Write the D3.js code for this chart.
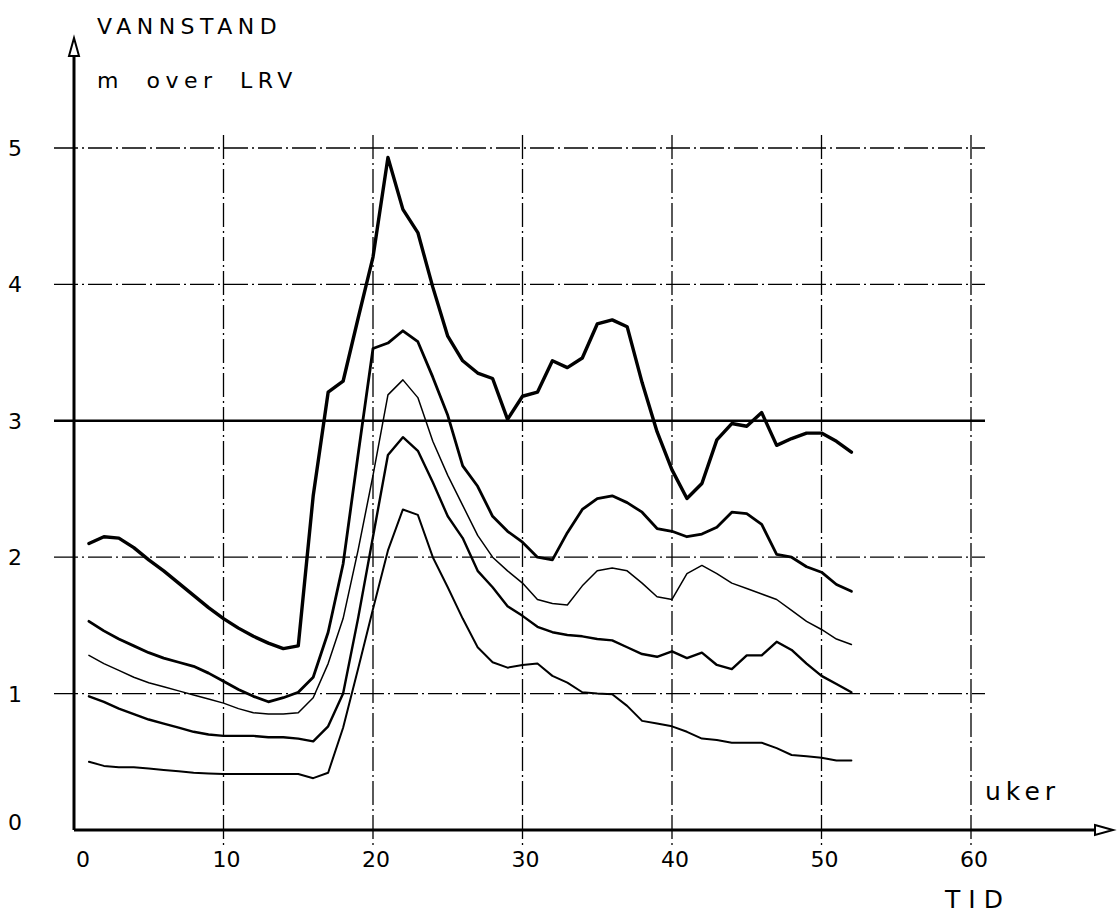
<!DOCTYPE html>
<html>
<head>
<meta charset="utf-8">
<script src="https://cdn.jsdelivr.net/npm/d3@7"></script>
<style>
  html, body { margin: 0; padding: 0; background: #fff; }
  svg { display: block; }
  text { font-family: "DejaVu Sans", sans-serif; fill: #000; }
</style>
</head>
<body>
<svg id="chart" width="1119" height="919"></svg>
<script>
// Weekly water level (m above LRV), weeks 1..52, five curves
const weeks = d3.range(1, 53);

const levelMax = [2.10, 2.15, 2.14, 2.07, 1.98, 1.90, 1.81, 1.72, 1.63, 1.55,
  1.48, 1.42, 1.37, 1.33, 1.35, 2.45, 3.21, 3.29, 3.75, 4.20,
  4.93, 4.55, 4.38, 3.98, 3.62, 3.44, 3.35, 3.31, 3.01, 3.18,
  3.21, 3.44, 3.39, 3.46, 3.71, 3.74, 3.69, 3.28, 2.92, 2.64,
  2.43, 2.54, 2.86, 2.98, 2.96, 3.06, 2.82, 2.87, 2.91, 2.91,
  2.85, 2.77];

const levelHigh = [1.53, 1.46, 1.40, 1.35, 1.30, 1.26, 1.23, 1.20, 1.15, 1.09,
  1.03, 0.98, 0.94, 0.97, 1.01, 1.12, 1.45, 1.95, 2.75, 3.53,
  3.57, 3.66, 3.58, 3.32, 3.04, 2.67, 2.52, 2.30, 2.19, 2.11,
  2.00, 1.98, 2.18, 2.35, 2.43, 2.45, 2.40, 2.33, 2.21, 2.19,
  2.15, 2.17, 2.22, 2.33, 2.32, 2.24, 2.02, 2.00, 1.93, 1.89,
  1.80, 1.75];

const levelMid = [1.28, 1.22, 1.17, 1.12, 1.08, 1.05, 1.02, 0.99, 0.96, 0.93,
  0.89, 0.86, 0.85, 0.85, 0.86, 0.97, 1.22, 1.55, 2.05, 2.60,
  3.19, 3.30, 3.17, 2.85, 2.60, 2.38, 2.16, 2.00, 1.90, 1.81,
  1.69, 1.66, 1.65, 1.79, 1.90, 1.92, 1.90, 1.81, 1.71, 1.69,
  1.88, 1.94, 1.88, 1.81, 1.77, 1.73, 1.69, 1.61, 1.53, 1.47,
  1.40, 1.36];

const levelLow = [0.98, 0.94, 0.89, 0.85, 0.81, 0.78, 0.75, 0.72, 0.70, 0.69,
  0.69, 0.69, 0.68, 0.68, 0.67, 0.65, 0.76, 1.00, 1.55, 2.15,
  2.75, 2.88, 2.78, 2.55, 2.30, 2.14, 1.90, 1.78, 1.64, 1.57,
  1.49, 1.45, 1.43, 1.42, 1.40, 1.39, 1.34, 1.29, 1.27, 1.31,
  1.26, 1.30, 1.21, 1.18, 1.28, 1.28, 1.38, 1.32, 1.22, 1.13,
  1.07, 1.01];

const levelMin = [0.50, 0.47, 0.46, 0.46, 0.45, 0.44, 0.43, 0.42, 0.415, 0.41,
  0.41, 0.41, 0.41, 0.41, 0.41, 0.38, 0.42, 0.75, 1.18, 1.62,
  2.05, 2.35, 2.31, 2.00, 1.78, 1.55, 1.34, 1.23, 1.19, 1.21,
  1.22, 1.13, 1.08, 1.01, 1.00, 0.995, 0.91, 0.80, 0.78, 0.76,
  0.72, 0.67, 0.66, 0.64, 0.64, 0.64, 0.60, 0.55, 0.54, 0.53,
  0.51, 0.51];

const xTicks = [0, 10, 20, 30, 40, 50, 60];
const yTicks = [0, 1, 2, 3, 4, 5];
const yTitle = ["VANNSTAND", "m over LRV"];
const xUnit = "uker";
const xTitle = "TID";
const limitLevel = 3;

const series = [
  { values: levelMax,  width: 3.4 },
  { values: levelHigh, width: 2.8 },
  { values: levelMid,  width: 1.5 },
  { values: levelLow,  width: 2.4 },
  { values: levelMin,  width: 2.0 }
];

const svg = d3.select("#chart");
const x = d3.scaleLinear().domain([0, 60]).range([74, 971]);
const y = d3.scaleLinear().domain([0, 5]).range([830, 148]);

const dashGrid = "24,4,2,4";

// grid: horizontal lines
const gridG = svg.append("g").attr("stroke", "#000").attr("fill", "none");
gridG.selectAll("line.h").data(yTicks.filter(d => d > 0 && d !== limitLevel)).join("line")
  .attr("class", "h")
  .attr("x1", 54).attr("x2", x(60) + 14)
  .attr("y1", d => y(d)).attr("y2", d => y(d))
  .attr("stroke-width", 1.3)
  .attr("stroke-dasharray", dashGrid);

// grid: vertical lines
gridG.selectAll("line.v").data(xTicks.filter(d => d > 0)).join("line")
  .attr("class", "v")
  .attr("x1", d => x(d)).attr("x2", d => x(d))
  .attr("y1", y(5) - 13).attr("y2", y(0) + 18)
  .attr("stroke-width", 1.3)
  .attr("stroke-dasharray", dashGrid);

// regulation level line at 3 m
svg.append("line")
  .attr("x1", 54).attr("x2", x(60) + 14)
  .attr("y1", y(limitLevel)).attr("y2", y(limitLevel))
  .attr("stroke", "#000").attr("stroke-width", 2.6);

// axes
const axisG = svg.append("g").attr("stroke", "#000").attr("fill", "none");
axisG.append("line")
  .attr("x1", x(0)).attr("x2", x(0))
  .attr("y1", y(0)).attr("y2", 48)
  .attr("stroke-width", 3);
axisG.append("line")
  .attr("x1", x(0)).attr("x2", 1097)
  .attr("y1", y(0)).attr("y2", y(0))
  .attr("stroke-width", 3);
// arrowheads
axisG.append("path")
  .attr("d", `M${x(0) - 5},56 L${x(0)},38 L${x(0) + 5},56 Z`)
  .attr("stroke-width", 2).attr("fill", "#fff");
axisG.append("path")
  .attr("d", `M1095,${y(0) - 5} L1113,${y(0)} L1095,${y(0) + 5} Z`)
  .attr("stroke-width", 2).attr("fill", "#fff");

// tick labels
svg.append("g").selectAll("text").data(yTicks).join("text")
  .attr("x", 15)
  .attr("y", d => y(d) + (d === 0 ? 0 : 8))
  .attr("text-anchor", "middle")
  .attr("font-size", 22)
  .text(d => d);

svg.append("g").selectAll("text").data(xTicks).join("text")
  .attr("x", d => x(d) + (d === 0 ? 9 : 3))
  .attr("y", y(0) + 37)
  .attr("text-anchor", "middle")
  .attr("font-size", 22)
  .text(d => d);

// titles
svg.append("text").attr("x", 97).attr("y", 34)
  .attr("font-size", 22).attr("letter-spacing", 5.5).text(yTitle[0]);
svg.append("text").attr("x", 97).attr("y", 88)
  .attr("font-size", 22).attr("letter-spacing", 5.5).attr("word-spacing", 10).text(yTitle[1]);
svg.append("text").attr("x", 985).attr("y", 800)
  .attr("font-size", 25).attr("letter-spacing", 5).text(xUnit);
svg.append("text").attr("x", 945).attr("y", 908)
  .attr("font-size", 25).attr("letter-spacing", 8).text(xTitle);

// curves
const line = d3.line()
  .x((d, i) => x(weeks[i]))
  .y(d => y(d));

svg.append("g").selectAll("path").data(series).join("path")
  .attr("d", s => line(s.values))
  .attr("fill", "none")
  .attr("stroke", "#000")
  .attr("stroke-width", s => s.width)
  .attr("stroke-linejoin", "round")
  .attr("stroke-linecap", "round");
</script>
</body>
</html>
